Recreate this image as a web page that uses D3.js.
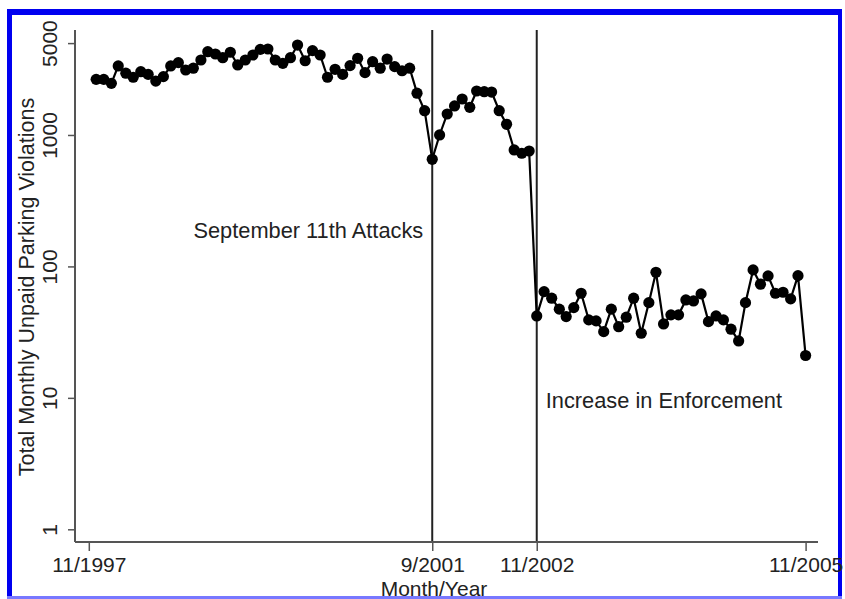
<!DOCTYPE html>
<html>
<head>
<meta charset="utf-8">
<script src="https://cdn.jsdelivr.net/npm/d3@7"></script>
<style>
  body { margin: 0; background: #fff; }
  svg { display: block; font-family: "Liberation Sans", Arial, sans-serif; }
</style>
</head>
<body>
<svg id="chart"></svg>
<script>
// monthly totals, 12/1997 .. 11/2005
const firstMonth = new Date(1997, 11, 1);
const violations = [
  2650, 2650, 2470, 3350, 2950, 2750, 3030, 2890, 2570, 2780, 3350, 3550,
  3120, 3220, 3720, 4300, 4130, 3870, 4260, 3410, 3720, 4060, 4480, 4510,
  3720, 3510, 3870, 4830, 3670, 4380, 4060, 2750, 3160, 2890, 3370, 3830,
  2980, 3610, 3220, 3780, 3310, 3080, 3220, 2080, 1530, 653,
  1000, 1444, 1662, 1878, 1624, 2161, 2135, 2121, 1530, 1206, 769, 726, 755,
  42, 64.3, 57.3, 47.3, 41.5, 48.6, 62.5, 39.2, 38.5, 31.9, 47.3, 34.8,
  41.1, 57.3, 31, 53, 90.3, 36.5, 42.8, 42.8, 55.6, 54.6, 61.8, 38, 42,
  39.2, 33.3, 27.1, 53, 94.1, 73.2, 84.7, 62.5, 63.6, 56.6, 85.1, 21
];
const xTickLabels = ["11/1997", "9/2001", "11/2002", "11/2005"];
const yTickValues = [1, 10, 100, 1000, 5000];
const eventMonths = ["9/2001", "11/2002"];
const eventLabels = ["September 11th Attacks", "Increase in Enforcement"];
const eventLabelValues = [165, 8.4];

const width = 845, height = 599;
const parseMonth = d3.timeParse("%m/%Y");

const data = violations.map((v, i) => ({ date: d3.timeMonth.offset(firstMonth, i), value: v }));

const svg = d3.select("#chart").attr("width", width).attr("height", height);

// blue frame
svg.append("rect").attr("x", 7).attr("y", 9).attr("width", 835).attr("height", 6).attr("fill", "#0000f0");
svg.append("rect").attr("x", 7).attr("y", 9).attr("width", 5).attr("height", 590).attr("fill", "#0000f0");
svg.append("rect").attr("x", 838).attr("y", 9).attr("width", 4).attr("height", 590).attr("fill", "#0000f0");
svg.append("rect").attr("x", 7).attr("y", 596).attr("width", 835).attr("height", 3).attr("fill", "#7878ff");

const x = d3.scaleTime()
  .domain([parseMonth("11/1997"), parseMonth("11/2005")])
  .range([88.8, 805.6]);
const y = d3.scaleLog().domain([1, 5000]).range([529.3, 43.1]);

const axisX = 75, axisY = 542, topY = 30;

// event lines
svg.selectAll("line.event").data(eventMonths).enter()
  .append("line").attr("class", "event")
  .attr("x1", d => x(parseMonth(d))).attr("x2", d => x(parseMonth(d)))
  .attr("y1", topY).attr("y2", axisY)
  .attr("stroke", "#222").attr("stroke-width", 2);

// y axis
const yAxis = svg.append("g").attr("transform", `translate(${axisX},0)`)
  .call(d3.axisLeft(y).tickValues(yTickValues).tickFormat(d3.format("d")).tickSize(7).tickPadding(4));
yAxis.select(".domain").attr("d", `M0,${topY}V${axisY}`);
yAxis.selectAll("line").attr("stroke", "#555").attr("stroke-width", 1.5);
yAxis.select(".domain").attr("stroke", "#555").attr("stroke-width", 2);
yAxis.selectAll("text")
  .attr("x", null).attr("dy", null)
  .attr("transform", "translate(-18,0) rotate(-90)")
  .attr("text-anchor", "middle")
  .attr("fill", "#222").style("font-size", "21px");

// x axis
const xAxis = svg.append("g").attr("transform", `translate(0,${axisY})`)
  .call(d3.axisBottom(x).tickValues(xTickLabels.map(parseMonth))
    .tickFormat(d3.timeFormat("%-m/%Y")).tickSize(9).tickPadding(6));
xAxis.select(".domain").attr("d", `M${axisX},0H818`).attr("stroke", "#555").attr("stroke-width", 2);
xAxis.selectAll("line").attr("stroke", "#555").attr("stroke-width", 1.5);
xAxis.selectAll("text").attr("fill", "#222").style("font-size", "21px");

// axis titles
svg.append("text")
  .attr("transform", "translate(34,287) rotate(-90)")
  .attr("text-anchor", "middle").attr("fill", "#222").style("font-size", "21.5px")
  .text("Total Monthly Unpaid Parking Violations");
svg.append("text")
  .attr("x", 434).attr("y", 596)
  .attr("text-anchor", "middle").attr("fill", "#222").style("font-size", "21px")
  .text("Month/Year");

// series
const line = d3.line().x(d => x(d.date)).y(d => y(d.value));
svg.append("path").datum(data)
  .attr("d", line).attr("fill", "none").attr("stroke", "#000").attr("stroke-width", 2.2);
svg.selectAll("circle.pt").data(data).enter()
  .append("circle").attr("class", "pt")
  .attr("cx", d => x(d.date)).attr("cy", d => y(d.value)).attr("r", 5.6)
  .attr("fill", "#000");

// event labels
svg.append("text")
  .attr("x", x(parseMonth(eventMonths[0])) - 9).attr("y", y(eventLabelValues[0]))
  .attr("text-anchor", "end").attr("fill", "#222").style("font-size", "21.8px")
  .text(eventLabels[0]);
svg.append("text")
  .attr("x", x(parseMonth(eventMonths[1])) + 9).attr("y", y(eventLabelValues[1]))
  .attr("text-anchor", "start").attr("fill", "#222").style("font-size", "21.8px")
  .text(eventLabels[1]);
</script>
</body>
</html>
